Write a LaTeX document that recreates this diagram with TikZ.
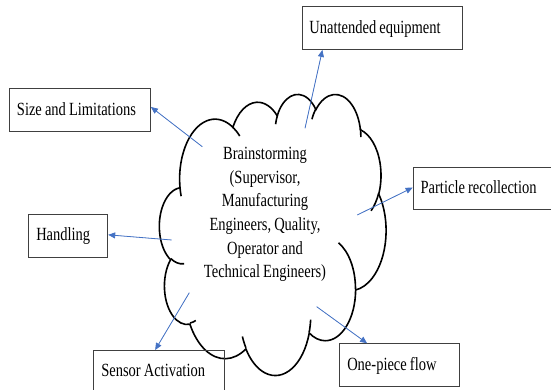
\documentclass[tikz,border=0pt]{standalone}
\usepackage{fontspec}
\setmainfont{Liberation Serif}[FakeStretch=0.78,WordSpace=0.85]
\usetikzlibrary{arrows.meta,calc}

\definecolor{linkblue}{HTML}{4472C4}
\definecolor{boxline}{HTML}{404040}
\newcommand\diagfont{\fontsize{18.6}{23.7}\selectfont}

% Elliptical arc style from a visual start angle and sweep (degrees):
% #1 style name, #2 x radius, #3 y radius, #4 start, #5 sweep
\newcommand\cloudseg[5]{%
  \pgfmathsetmacro\segA{atan2((#2)*sin(#4),(#3)*cos(#4))}%
  \pgfmathsetmacro\segB{atan2((#2)*sin((#4)+(#5)),(#3)*cos((#4)+(#5)))}%
  \pgfmathsetmacro\segD{mod(\segB-(\segA)+720,360)}%
  \edef\segTmp{\noexpand\tikzset{#1/.style={start angle=\segA,delta angle=\segD,x radius=#2,y radius=#3}}}%
  \segTmp}

% outline of the cloud
\cloudseg{cA}{67.53}{91.90}{-190.4875}{123.7805}
\cloudseg{cB}{53.33}{72.67}{-144.1024}{89.9452}
\cloudseg{cC}{43.65}{59.45}{-145.8079}{99.7230}
\cloudseg{cD}{48.57}{65.95}{-130.9861}{117.2417}
\cloudseg{cE}{53.33}{72.73}{-78.7089}{109.0269}
\cloudseg{cF}{67.75}{92.20}{-46.2673}{130.2690}
\cloudseg{cG}{57.85}{78.67}{0.6250}{114.0333}
\cloudseg{cH}{67.52}{92.15}{22.4516}{115.1726}
\cloudseg{cI}{77.20}{105.43}{66.2426}{75.7110}
\cloudseg{cJ}{43.60}{59.18}{-274.9421}{146.7356}
\cloudseg{cK}{43.45}{59.45}{-246.8285}{152.5189}
% short inner arcs between the puffs
\cloudseg{iA}{43.45}{59.45}{86.7420}{26.4295}
\cloudseg{iB}{43.60}{59.18}{73.6105}{11.4475}
\cloudseg{iC}{67.52}{92.15}{137.6242}{14.0811}
\cloudseg{iD}{67.52}{92.15}{6.4533}{15.9984}
\cloudseg{iE}{57.85}{78.67}{-70.2924}{70.9174}
\cloudseg{iF}{53.33}{72.73}{30.3180}{27.7515}
\cloudseg{iG}{48.57}{65.95}{-13.7443}{14.8589}
\cloudseg{iH}{48.57}{65.95}{-149.1815}{18.1954}
\cloudseg{iI}{43.65}{59.45}{-163.4943}{17.6864}
\cloudseg{iJ}{67.53}{91.90}{-66.7070}{12.3194}
\cloudseg{iK}{67.53}{91.90}{157.6544}{11.8582}

\begin{document}
\begin{tikzpicture}[x=1pt,y=-1pt,
  labelbox/.style={draw=boxline,line width=0.9pt,anchor=north west,
    inner xsep=7.5pt,inner ysep=0pt,text height=26.5pt,text depth=16pt,
    font=\diagfont,execute at begin node={\spaceskip=0pt\xspaceskip=0pt}},
  flowarrow/.style={draw=linkblue,line width=0.8pt,
    -{Triangle[length=7pt,width=6pt]},fill=linkblue},
  cloudline/.style={draw=black,line width=1.6pt}]
\useasboundingbox (0,0) rectangle (551,390);

% cloud
\begin{scope}[shift={(159.5,93.5)},x=0.5243pt,y=-0.6505pt]
  \draw[cloudline] (39.00,143.70) arc[cA] arc[cB] arc[cC] arc[cD] arc[cE]
    arc[cF] arc[cG] arc[cH] arc[cI] arc[cJ] arc[cK] -- cycle;
  \draw[cloudline] (46.93,261.77) arc[iA] (69.28,348.99) arc[iB]
    (164.78,390.90) arc[iC] (288.27,347.51) arc[iD]
    (341.29,229.54) arc[iE] (417.98,153.54) arc[iF]
    (383.24,54.26) arc[iG] (290.78,39.52) arc[iH]
    (221.41,47.20) arc[iI] (140.00,51.92) arc[iJ]
    (41.27,157.89) arc[iK];
\end{scope}

\node[font=\diagfont,align=center,inner sep=0pt] (brain) at (265,214.5)
  {Brainstorming\\(Supervisor,\\Manufacturing\\Engineers, Quality,\\Operator and\\Technical Engineers)};

% outcome boxes (single lines, left set inside a fixed width)
\node[labelbox,text width=145pt] (ue) at (301.5,6.5) {Unattended equipment};
\node[labelbox,text width=126pt] (sl) at (9,88.3) {Size and Limitations};
\node[labelbox,text width=123pt] (pr) at (412.7,166.7) {Particle recollection};
\node[labelbox,text width=64pt] (hd) at (28.3,214) {Handling};
\node[labelbox,text width=115.7pt] (sa) at (93.3,350) {Sensor Activation};
\node[labelbox,text width=105pt] (op) at (339.3,343.3) {One-piece flow};

% arrow tails inside the cloud
\coordinate (s1) at (305,128.3);
\coordinate (s2) at (202.3,146.7);
\coordinate (s3) at (357.3,215);
\coordinate (s4) at (171.7,240);
\coordinate (s5) at (189.3,292.7);
\coordinate (s6) at (316.7,306.7);

\draw[flowarrow] (s1) -- ($(ue.south west)!0.13!(ue.south east)$);
\draw[flowarrow] (s2) -- ($(sl.north east)!0.43!(sl.south east)$);
\draw[flowarrow] (s3) -- ($(pr.north west)!0.48!(pr.south west)$);
\draw[flowarrow] (s4) -- ($(hd.north east)!0.48!(hd.south east)$);
\draw[flowarrow] (s5) -- ($(sa.north west)!0.47!(sa.north east)$);
\draw[flowarrow] (s6) -- ($(op.north west)!0.23!(op.north east)$);
\end{tikzpicture}
\end{document}
